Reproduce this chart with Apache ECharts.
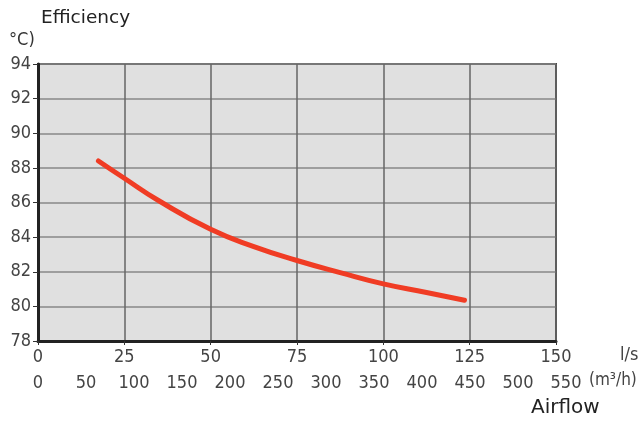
<!DOCTYPE html>
<html>
<head>
<meta charset="utf-8">
<script src="https://cdn.jsdelivr.net/npm/echarts@6/dist/echarts.min.js"></script>
<style>html,body{margin:0;padding:0;background:#fff}#c{width:642px;height:421px}</style>
</head>
<body>
<div id="c"></div>
<script>
// Airflow (l/s) and efficiency values
const airflowLs = [17.5, 25, 35, 50, 62.5, 75, 87.5, 100, 112.5, 123.5];
const efficiency = [88.4, 87.4, 86.1, 84.45, 83.45, 82.65, 81.95, 81.3, 80.8, 80.35];
const yTicks = [78, 80, 82, 84, 86, 88, 90, 92, 94];
const xTicksLs = [0, 25, 50, 75, 100, 125, 150];
const xTicksM3h = [0, 50, 100, 150, 200, 250, 300, 350, 400, 450, 500, 550];

const narrow = '"Liberation Sans Narrow", "DejaVu Sans Condensed", sans-serif';
const labelColor = '#444';

const chart = echarts.init(document.getElementById('c'), null, {renderer: 'canvas'});
chart.setOption({
  animation: false,
  grid: [
    {left: 38, top: 64, width: 518, height: 277, show: true, backgroundColor: '#e0e0e0', borderColor: '#444', borderWidth: 2},
    {left: 38, top: 300, width: 528, height: 41, show: false}
  ],
  xAxis: [
    {
      gridIndex: 0, type: 'value', min: xTicksLs[0], max: xTicksLs[xTicksLs.length - 1], interval: 25,
      axisLine: {show: true, onZero: false, lineStyle: {color: '#222', width: 3}},
      axisTick: {show: true, length: 4, lineStyle: {color: '#333', width: 1}},
      axisLabel: {color: labelColor, fontFamily: narrow, fontSize: 18, margin: 7},
      splitLine: {show: true, lineStyle: {color: '#666', width: 1.5}}
    },
    {
      gridIndex: 1, type: 'value', min: xTicksM3h[0], max: xTicksM3h[xTicksM3h.length - 1], interval: 50,
      axisLine: {show: false}, axisTick: {show: false},
      axisLabel: {color: labelColor, fontFamily: narrow, fontSize: 18, margin: 33},
      splitLine: {show: false}
    }
  ],
  yAxis: [
    {
      gridIndex: 0, type: 'value', min: yTicks[0], max: yTicks[yTicks.length - 1], interval: 2,
      axisLine: {show: true, onZero: false, lineStyle: {color: '#222', width: 3}},
      axisTick: {show: true, length: 5, lineStyle: {color: '#333', width: 1}},
      axisLabel: {color: labelColor, fontFamily: narrow, fontSize: 18, margin: 7},
      splitLine: {show: true, lineStyle: {color: '#888', width: 1.5}}
    },
    {gridIndex: 1, type: 'value', show: false, min: 0, max: 1}
  ],
  series: [{
    type: 'line', xAxisIndex: 0, yAxisIndex: 0,
    data: airflowLs.map((x, i) => [x, efficiency[i]]),
    smooth: 0.5, showSymbol: false,
    lineStyle: {color: '#f03c24', width: 5, cap: 'round'}
  }],
  graphic: [
    {type: 'text', left: 41, top: 9, style: {text: 'Efficiency', font: '18.5px "DejaVu Sans", sans-serif', fill: '#222'}},
    {type: 'text', left: 9, top: 31, style: {text: '°C)', font: '18px ' + narrow, fill: '#333'}},
    {type: 'text', left: 620, top: 346, style: {text: 'l/s', font: '18px ' + narrow, fill: labelColor}},
    {type: 'text', left: 589, top: 372, style: {text: '(m³/h)', font: '17px ' + narrow, fill: labelColor}},
    {type: 'text', left: 531, top: 398, style: {text: 'Airflow', font: '20px "DejaVu Sans", sans-serif', fill: '#222'}}
  ]
});
</script>
</body>
</html>
